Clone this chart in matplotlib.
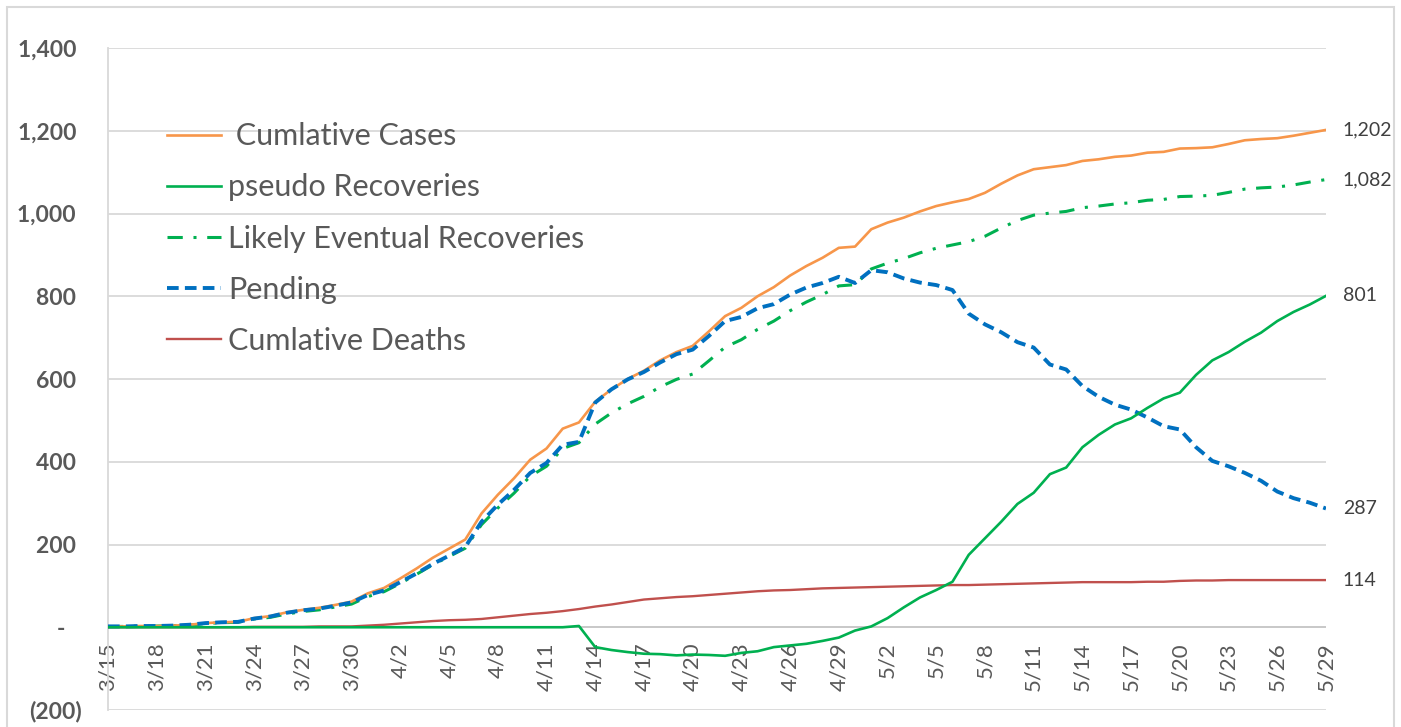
import matplotlib
matplotlib.use("Agg")
import matplotlib.pyplot as plt
from matplotlib.patches import Rectangle
import pandas as pd

# ---------------- data ----------------
dates = pd.date_range("2020-03-15", "2020-05-29", freq="D")
date_labels = [f"{d.month}/{d.day}" for d in dates]

cases = [2, 2, 3, 3, 4, 6, 10, 12, 13, 22, 27, 36, 42, 47, 54, 62, 82, 95, 118, 142,
         168, 190, 212, 275, 320, 360, 405, 432, 480, 495, 545, 575, 600, 620, 645, 665, 680, 715, 752, 772,
         800, 822, 850, 873, 893, 917, 920, 962, 978, 990, 1005, 1018, 1027, 1035, 1050, 1072, 1092, 1107, 1112, 1117,
         1127, 1131, 1137, 1140, 1147, 1149, 1157, 1158, 1160, 1168, 1177, 1180, 1182, 1188, 1195, 1202]

pseudo_recoveries = [0] * 29 + [3, -48, -55, -60, -64, -65, -68, -66, -67, -69, -62,
                                -58, -48, -44, -40, -33, -25, -8, 2, 22, 48, 72, 90, 110, 175, 215, 255, 298, 325, 370, 386,
                                435, 465, 490, 505, 530, 553, 567, 610, 645, 665, 690, 712, 740, 762, 780, 801]

likely_recoveries = [2, 2, 3, 3, 4, 5, 9, 11, 12, 20, 24, 32, 38, 42, 49, 56, 74, 86, 106, 128,
                     151, 171, 191, 248, 288, 324, 365, 389, 432, 446, 491, 518, 540, 558, 581, 599, 612, 644, 677, 695,
                     720, 740, 765, 786, 804, 825, 828, 866, 880, 891, 905, 916, 924, 932, 945, 965, 983, 996, 1001, 1005,
                     1014, 1018, 1023, 1026, 1032, 1034, 1041, 1042, 1044, 1051, 1059, 1062, 1064, 1069, 1076, 1082]

pending = [2, 2, 3, 3, 4, 6, 10, 12, 13, 21, 26, 35, 41, 45, 52, 60, 78, 89, 109, 130,
           153, 173, 194, 255, 296, 332, 373, 397, 441, 448, 543, 575, 599, 617, 640, 660, 671, 704, 740, 750,
           771, 781, 804, 821, 832, 847, 832, 863, 858, 843, 833, 827, 815, 758, 732, 713, 689, 676, 635, 623,
           583, 557, 538, 526, 507, 486, 478, 435, 402, 389, 373, 354, 328, 312, 301, 287]

deaths = [0, 0, 0, 0, 0, 0, 0, 0, 0, 1, 1, 1, 1, 2, 2, 2, 4, 6, 9, 12,
          15, 17, 18, 20, 24, 28, 32, 35, 39, 44, 50, 55, 61, 67, 70, 73, 75, 78, 81, 84,
          87, 89, 90, 92, 94, 95, 96, 97, 98, 99, 100, 101, 102, 102, 103, 104, 105, 106, 107, 108,
          109, 109, 109, 109, 110, 110, 112, 113, 113, 114, 114, 114, 114, 114, 114, 114]

series_names = [" Cumlative Cases", "pseudo Recoveries", "Likely Eventual Recoveries",
                "Pending", "Cumlative Deaths"]

y_ticks = [-200, 0, 200, 400, 600, 800, 1000, 1200, 1400]
y_tick_labels = ["(200)", "-   ", "200 ", "400 ", "600 ", "800 ", "1,000 ", "1,200 ", "1,400 "]

# ---------------- figure ----------------
W, H = 1401, 727
fig = plt.figure(figsize=(W / 100, H / 100), dpi=100)
fig.patch.set_facecolor("white")

# outer frame
fig.patches.append(Rectangle((7 / W, -0.01), (1394 - 7) / W, 1 - 7 / H + 0.01,
                             transform=fig.transFigure, fill=False,
                             edgecolor="#D9D9D9", linewidth=1.5))

ax_left, ax_right = 108 / W, 1326 / W
ax_bottom, ax_top = 1 - 710 / H, 1 - 48 / H
ax = fig.add_axes([ax_left, ax_bottom, ax_right - ax_left, ax_top - ax_bottom])

x = list(range(len(dates)))

FONT = "Lato"
TXT = "#595959"

l1, = ax.plot(x, cases, color="#F7964A", lw=1.9, label=series_names[0], zorder=4)
l2, = ax.plot(x, pseudo_recoveries, color="#00B050", lw=1.9, label=series_names[1], zorder=5)
l3, = ax.plot(x, likely_recoveries, color="#00B050", lw=2.2, label=series_names[2], zorder=3,
              dashes=(5, 3.5, 1, 3.5))
l4, = ax.plot(x, pending, color="#0070C0", lw=2.8, label=series_names[3], zorder=4,
              dashes=(3, 1.6))
l5, = ax.plot(x, deaths, color="#C0504D", lw=1.7, label=series_names[4], zorder=3)

ax.set_xlim(0, len(dates) - 1)
ax.set_ylim(-200, 1400)

# spines first (set_position resets tick properties)
for s in ["top", "right"]:
    ax.spines[s].set_visible(False)
ax.spines["bottom"].set_position(("data", 0))
ax.spines["bottom"].set_visible(False)
ax.spines["left"].set_color("#D9D9D9")
ax.spines["left"].set_linewidth(1.3)

# grid
ax.set_yticks(y_ticks)
ax.yaxis.grid(True, color="#D9D9D9", lw=1.3, zorder=0)
ax.set_axisbelow(True)
ax.axhline(0, color="#C8C8C8", lw=1.3, zorder=1)

ax.set_yticklabels(y_tick_labels, fontfamily=FONT, fontweight="bold", fontsize=16.5, color=TXT)
ax.tick_params(axis="y", length=0, pad=19)

# x tick labels at y = 0
tick_idx = list(range(0, len(dates), 3))
ax.set_xticks(tick_idx)
ax.set_xticklabels([date_labels[i] for i in tick_idx], rotation=90,
                   fontfamily=FONT, fontsize=16, color=TXT)
ax.tick_params(axis="x", length=0, pad=11)

# end labels
end_vals = [cases[-1], likely_recoveries[-1], pseudo_recoveries[-1], pending[-1], deaths[-1]]
for v in end_vals:
    ax.annotate(f"{v:,}", xy=(x[-1], v), xytext=(12, 0), textcoords="offset points",
                va="center", ha="left", fontfamily=FONT, fontsize=14, color="#404040",
                annotation_clip=False)

leg = ax.legend(handles=[l1, l2, l3, l4, l5], loc="upper left",
                bbox_to_anchor=(155 / W, 1 - 110 / H), bbox_transform=fig.transFigure,
                frameon=False, prop={"family": FONT, "size": 22},
                handlelength=1.75, handletextpad=0.25, labelspacing=0.76, borderaxespad=0)
for t in leg.get_texts():
    t.set_color(TXT)

fig.savefig("out.png", dpi=100)
